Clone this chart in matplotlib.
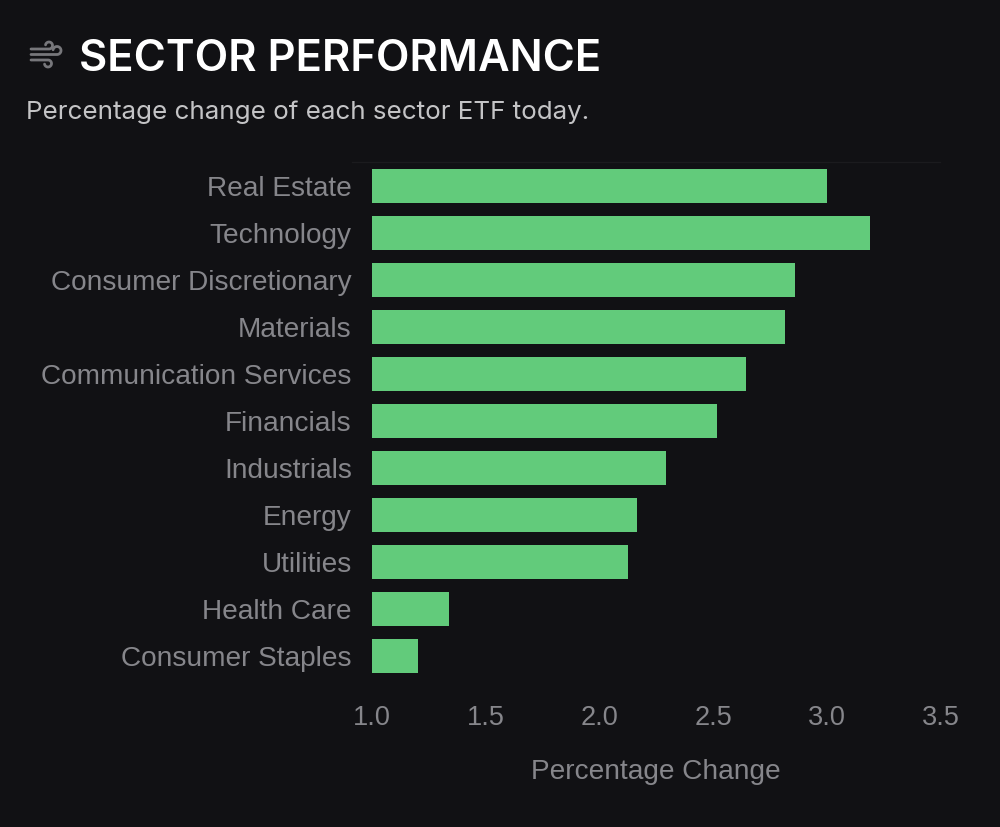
import numpy as np
import matplotlib
matplotlib.use('Agg')
import matplotlib.pyplot as plt
from matplotlib.lines import Line2D
from matplotlib.transforms import ScaledTranslation

sectors = ['Real Estate', 'Technology', 'Consumer Discretionary', 'Materials',
           'Communication Services', 'Financials', 'Industrials', 'Energy',
           'Utilities', 'Health Care', 'Consumer Staples']
changes = [3.00, 3.19, 2.86, 2.815, 2.645, 2.515, 2.29, 2.165, 2.125, 1.34, 1.20]
x_ticks = [1.0, 1.5, 2.0, 2.5, 3.0, 3.5]

BG = '#111114'
GREEN = '#62cb7b'
GREY = '#86868b'

W, H = 1000, 828
fig = plt.figure(figsize=(W / 100, H / 100), dpi=100, facecolor=BG)
ax = fig.add_axes([372 / W, 1 - 680.5 / H, (941 - 372) / W, (680.5 - 163.5) / H], facecolor=BG)

ax.barh(sectors, changes, height=0.72, color=GREEN, left=0)
ax.set_xlim(1.0, 3.5)
ax.set_ylim(len(sectors) - 0.5, -0.5)
ax.set_xticks(x_ticks)
ax.set_xticklabels([f'{t:.1f}' for t in x_ticks])
ax.tick_params(axis='y', length=0, labelcolor=GREY, labelsize=20.2, labelfontfamily='Liberation Sans', pad=14.5)
ax.tick_params(axis='x', length=0, labelcolor=GREY, labelsize=19.5, labelfontfamily='Liberation Sans', pad=18)
# nudge the sector names up a little
nudge = ScaledTranslation(0, 1.2 / 100, fig.dpi_scale_trans)
for lab in ax.get_yticklabels():
    lab.set_transform(lab.get_transform() + nudge)
ax.set_xlabel('Percentage Change', color=GREY, fontsize=20.2, family='Liberation Sans')
ax.xaxis.set_label_coords((656 - 372) / (941 - 372), -(772 - 680.5) / (680.5 - 163.5), transform=ax.transAxes)
ax.xaxis.label.set_va('center')
for s in ax.spines.values():
    s.set_visible(False)

# faint line on top of the plot
fig.add_artist(Line2D([352 / W, 940 / W], [1 - 163 / H] * 2, color='#1b1b1e', lw=1))

fig.text(79 / W, 1 - 71 / H, 'SECTOR PERFORMANCE', color='white', fontsize=31.35,
         family='Inter', weight='semibold', va='baseline', ha='left')
fig.text(26 / W, 1 - 119 / H, 'Percentage change of each sector ETF today.', color='#c4c4c6',
         fontsize=18.7, family='Inter', va='baseline', ha='left')

# wind icon, in pixel coordinates
ICON = '#77777b'
pix = fig.add_axes([0, 0, 1, 1], facecolor='none')
pix.set_xlim(0, W)
pix.set_ylim(H, 0)
pix.axis('off')


def wind_stroke(y, x_end, r, t1, t2):
    # straight bar that ends in a curl
    cy = y - r if t1 < 0 else y + r
    t = np.radians(np.linspace(t1, t2, 30))
    xs = np.r_[31, x_end + r * np.cos(t)]
    ys = np.r_[y, cy - r * np.sin(t)]
    pix.plot(xs, ys, color=ICON, lw=2.0, solid_capstyle='round')


wind_stroke(50, 49, 3.5, -90, 170)
wind_stroke(55.5, 57, 4, -90, 170)
wind_stroke(61, 48, 3.5, 90, -170)

fig.savefig('out.png', dpi=100, facecolor=BG)
